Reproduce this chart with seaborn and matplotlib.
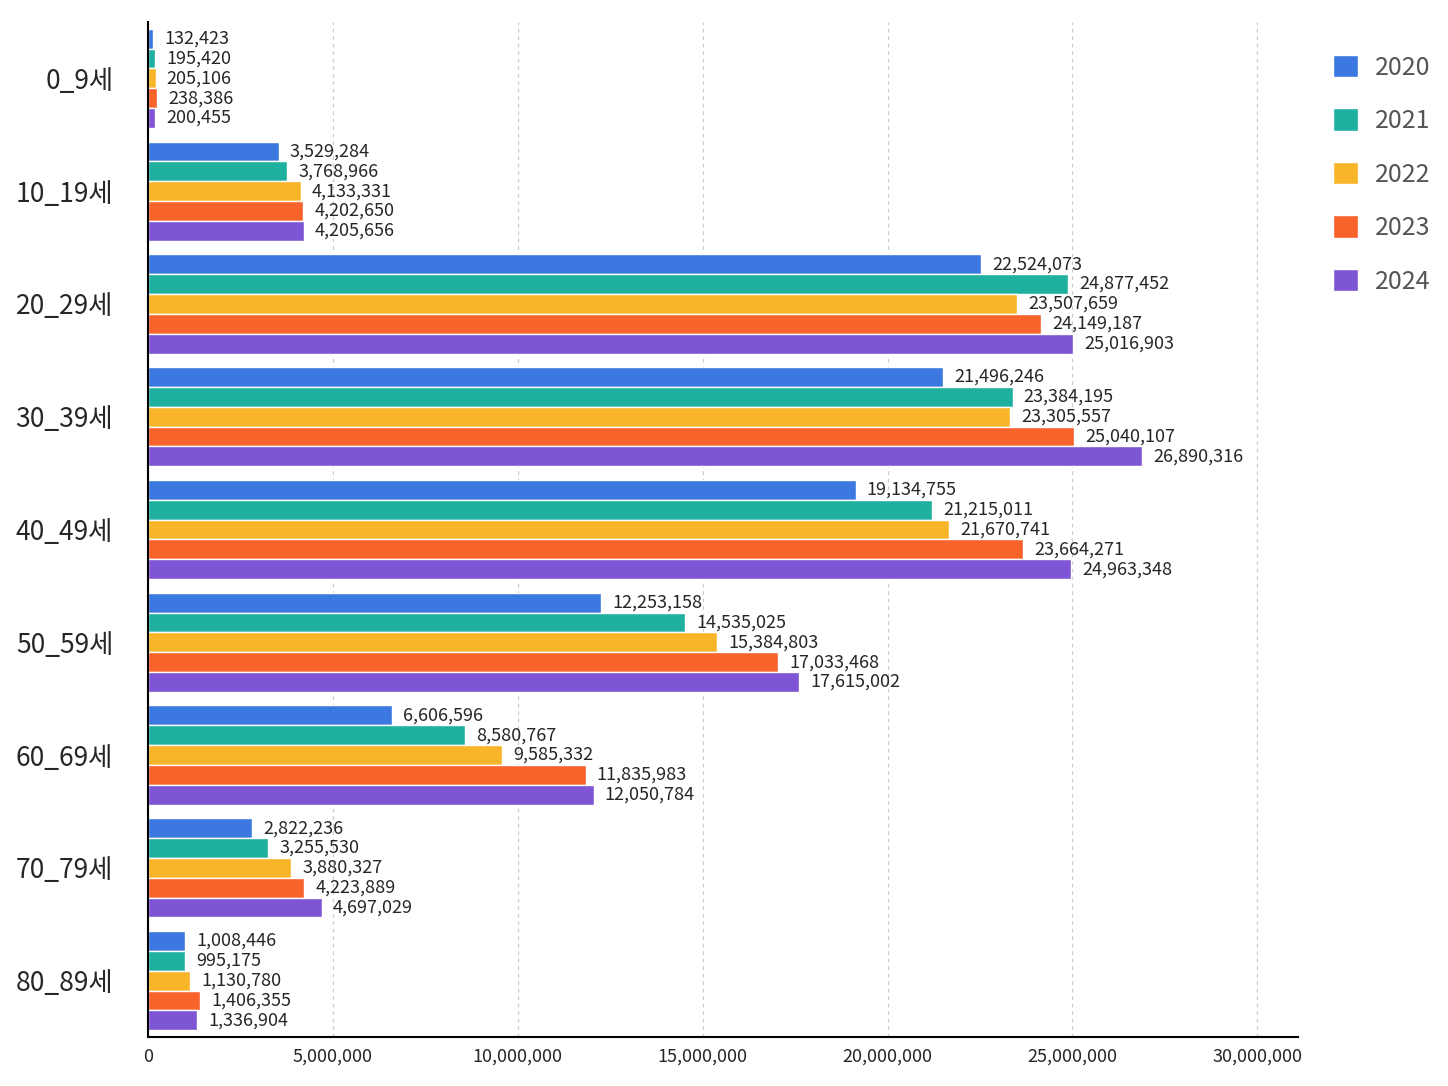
import matplotlib
matplotlib.use("Agg")
import matplotlib.pyplot as plt
import seaborn as sns
import pandas as pd

ages = ["0_9세","10_19세","20_29세","30_39세","40_49세","50_59세","60_69세","70_79세","80_89세"]
years = ["2020","2021","2022","2023","2024"]
v2020 = [132423,3529284,22524073,21496246,19134755,12253158,6606596,2822236,1008446]
v2021 = [195420,3768966,24877452,23384195,21215011,14535025,8580767,3255530,995175]
v2022 = [205106,4133331,23507659,23305557,21670741,15384803,9585332,3880327,1130780]
v2023 = [238386,4202650,24149187,25040107,23664271,17033468,11835983,4223889,1406355]
v2024 = [200455,4205656,25016903,26890316,24963348,17615002,12050784,4697029,1336904]
colors = ["#3b78e0","#1fb0a0","#f9b52a","#f8622b","#7e55d4"]

rows = []
for y, vals in zip(years, [v2020,v2021,v2022,v2023,v2024]):
    for a, v in zip(ages, vals):
        rows.append({"age": a, "year": y, "value": v})
df = pd.DataFrame(rows)

sns.set_style("white")
plt.rcParams['font.family'] = ['Noto Sans CJK KR', 'DejaVu Sans']
fig = plt.figure(figsize=(14.48, 10.86), dpi=100)
ax = fig.add_axes([148/1448, 1-1037/1086, 1150/1448, 1015/1086])
sns.barplot(data=df, y="age", x="value", hue="year", palette=colors, orient="h",
            width=0.88, ax=ax, saturation=1, legend=True)
for c in ax.containers:
    ax.bar_label(c, labels=[f"{int(b.get_width()):,}" for b in c], padding=8, fontsize=13)
ax.set_xlim(0, 31.1e6)
ticks = [0,5e6,10e6,15e6,20e6,25e6,30e6]
ax.set_xticks(ticks)
ax.set_xticklabels([f"{int(t):,}" for t in ticks], fontsize=13)
ax.tick_params(axis='y', labelsize=19, length=0, pad=25)
ax.tick_params(axis='x', length=0, pad=8)
ax.set_xlabel(""); ax.set_ylabel("")
ax.grid(axis='x', color='#cccccc', linestyle=(0,(3,3)), linewidth=0.9)
ax.set_axisbelow(True)
for s in ["top","right"]:
    ax.spines[s].set_visible(False)
for s in ["left","bottom"]:
    ax.spines[s].set_color("black"); ax.spines[s].set_linewidth(1.5)
h, l = ax.get_legend_handles_labels()
ax.legend(h, l, loc="upper left", bbox_to_anchor=(1.015, 0.985), frameon=False,
          fontsize=18, handlelength=1.0, handleheight=1.0, labelspacing=1.1,
          handletextpad=0.7, borderpad=0.2, labelcolor="#555555")
fig.savefig("out.png", dpi=100)
